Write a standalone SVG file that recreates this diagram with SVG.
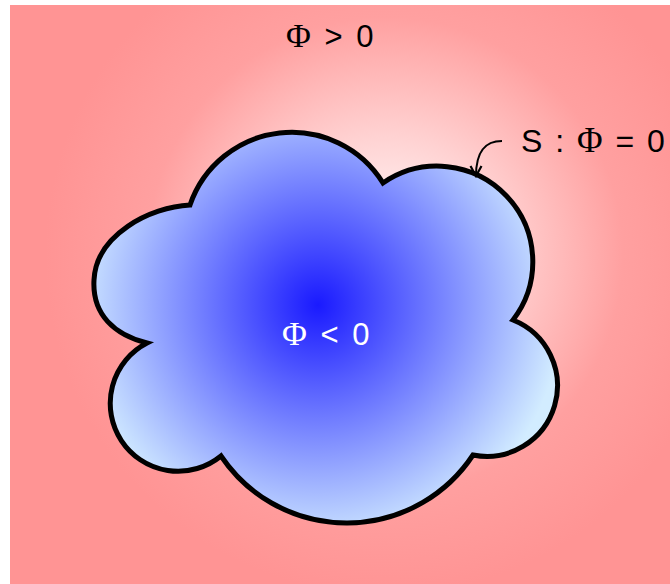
<svg xmlns="http://www.w3.org/2000/svg" width="670" height="584" viewBox="0 0 670 584">
<defs>
<radialGradient id="bg" gradientUnits="userSpaceOnUse" cx="385" cy="255" r="340">
<stop offset="0" stop-color="#ffffff"/>
<stop offset="0.35" stop-color="#ffd2d2"/>
<stop offset="0.7" stop-color="#ffa0a0"/>
<stop offset="1" stop-color="#ff9494"/>
</radialGradient>
<radialGradient id="cl" gradientUnits="userSpaceOnUse" cx="318" cy="305" r="245">
<stop offset="0" stop-color="#1a1aff"/>
<stop offset="1" stop-color="#d2ecff"/>
</radialGradient>
<marker id="ah" viewBox="0 0 14 14" refX="12" refY="7" markerWidth="14" markerHeight="14" markerUnits="userSpaceOnUse" orient="auto">
<path d="M2,1.5 L12,7 L2,12.5" fill="none" stroke="#000" stroke-width="2.2"/>
</marker>
<style>
.lbl{font-family:"Liberation Sans",Arial,sans-serif;font-size:31px;fill:#000;word-spacing:5px}
.phi{font-family:"Liberation Serif","Times New Roman",serif;font-size:34px}
</style>
</defs>
<rect id="background" x="10" y="5" width="660" height="579" fill="url(#bg)"/>
<g id="cloud">
<path d="M190,205 A107.5,107.5 0 0 1 383,183 A95.6,95.6 0 0 1 513,320 A70.7,70.7 0 0 1 473,455 A151.4,151.4 0 0 1 221,456 A67.9,67.9 0 1 1 147,343 C115,335 92,315 94,280 C96,235 150,207 190,205 Z" fill="url(#cl)" stroke="#000" stroke-width="5" stroke-linejoin="miter"/>
</g>
<g id="connectors">
<path d="M502,141 C486,141 476,150 476,176" fill="none" stroke="#000" stroke-width="2" marker-end="url(#ah)"/>
</g>
<g id="label-outside"><text class="lbl" x="286" y="47"><tspan class="phi">Φ</tspan> &gt; 0</text></g>
<g id="label-surface"><text class="lbl" x="521" y="152" style="font-size:32px;word-spacing:4px">S : <tspan class="phi" style="font-size:35px">Φ</tspan> = 0</text></g>
<g id="label-inside"><text class="lbl" x="282" y="345" style="fill:#fff"><tspan class="phi">Φ</tspan> &lt; 0</text></g>
</svg>
